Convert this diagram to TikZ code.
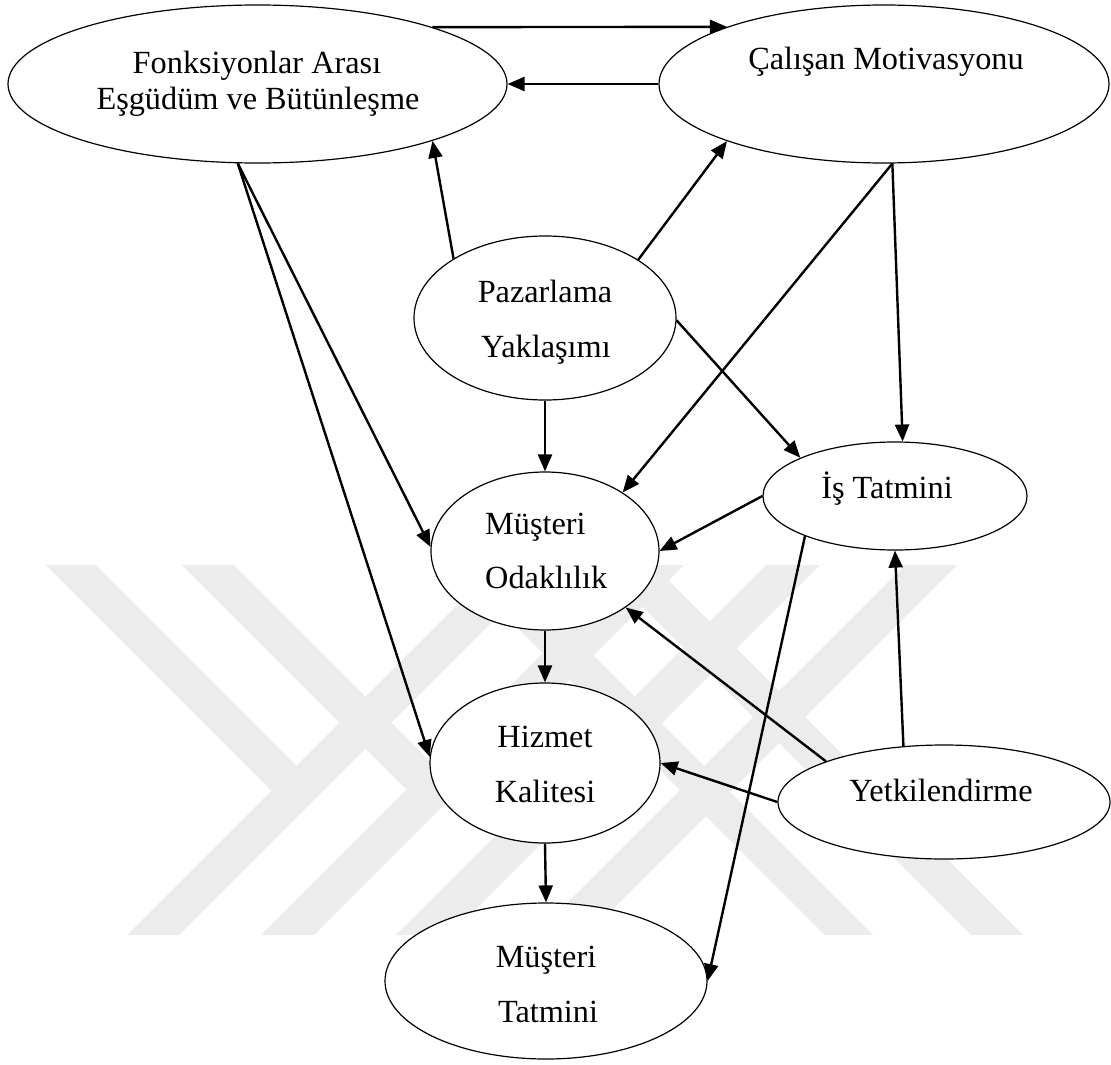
\documentclass[tikz,border=0pt]{standalone}
\usepackage{fontspec}
\setmainfont{Liberation Serif}
\usetikzlibrary{arrows.meta,shapes.geometric}
\definecolor{markgray}{HTML}{ECECEC}
\begin{document}
\begin{tikzpicture}[x=1pt,y=-1pt,
  oval/.style 2 args={draw,fill=white,ellipse,line width=1.2pt,inner sep=0pt,
    minimum width=#1pt,minimum height=#2pt},
  lbl/.style={font=\fontsize{32.3}{38}\selectfont,inner sep=0pt,anchor=base},
  conn/.style={line width=2.4pt,-{Triangle[length=17pt,width=14pt]}},
  band/.style={fill=markgray,draw=none}]
\useasboundingbox (0,0) rectangle (1111,1065);
\fill[white] (0,0) rectangle (1111,1065);

% faint background emblem made of diagonal bands
\fill[band] (46,565) -- (96,565) -- (322.5,791.5) -- (271.5,790.5) -- cycle;
\fill[band] (497,565) -- (549,565) -- (179,935) -- (127,935) -- cycle;
\fill[band] (182,565) -- (234,565) -- (459,790) -- (406.5,789.5) -- cycle;
\fill[band] (631,565) -- (684,565) -- (314,935) -- (261,935) -- cycle;
\fill[band] (766,565) -- (820,565) -- (450,935) -- (396,935) -- cycle;
\fill[band] (455,565) -- (503,565) -- (873,935) -- (825,935) -- cycle;
\fill[band] (905,565) -- (957,565) -- (587,935) -- (535,935) -- cycle;
\fill[band] (601,565) -- (653,565) -- (1023,935) -- (971,935) -- cycle;

% ovals
\node[oval={499}{158}] (F) at (257.5,84) {};
\node[oval={450}{158}] (C) at (884,84) {};
\node[oval={262}{164}] (P) at (545,318) {};
\node[oval={264}{108}] (I) at (895,496) {};
\node[oval={228}{158}] (O) at (545,551) {};
\node[oval={230}{160}] (H) at (545,763) {};
\node[oval={332}{114}] (Y) at (944,802) {};
\node[oval={322}{156}] (T) at (546,981) {};

% labels
\node[lbl] (F1) at (257,74) {Fonksiyonlar Arası};
\node[lbl] (F2) at (258,109) {Eşgüdüm ve Bütünleşme};
\node[lbl] (C1) at (886,70) {Çalışan Motivasyonu};
\node[lbl] (P1) at (545,302) {Pazarlama};
\node[lbl] (P2) at (546,357) {Yaklaşımı};
\node[lbl] (I1) at (887,498) {İş Tatmini};
\node[lbl,anchor=base west] (O1) at (485,534) {Müşteri};
\node[lbl,anchor=base west] (O2) at (485,588) {Odaklılık};
\node[lbl] (H1) at (545,747) {Hizmet};
\node[lbl] (H2) at (545,802) {Kalitesi};
\node[lbl] (Y1) at (941,801) {Yetkilendirme};
\node[lbl] (T1) at (546,967) {Müşteri};
\node[lbl] (T2) at (548,1022) {Tatmini};

% connectors
\draw[conn] (F.18) -- (C.160.6);
\draw[conn] (C.west) -- (F.east);
\draw[conn] (P.147.8) -- (F.-18.9);
\draw[conn] (P.32) -- (C.200);
\draw[conn] (C.276) -- (I.82.5);
\draw[conn] (C.276) -- (O.37);
\draw[conn] (P.-1) -- (I.158);
\draw[conn] (P.south) -- (O.north);
\draw[conn] (F.256) -- (O.178);
\draw[conn] (F.256) -- (H.177);
\draw[conn] (I.west) -- (O.east);
\draw[conn] (I.204) -- (T.east);
\draw[conn] (Y.126) -- (I.south);
\draw[conn] (Y.161) -- (O.-35);
\draw[conn] (Y.west) -- (H.east);
\draw[conn] (O.south) -- (H.north);
\draw[conn] (H.south) -- (T.north);
\end{tikzpicture}
\end{document}
